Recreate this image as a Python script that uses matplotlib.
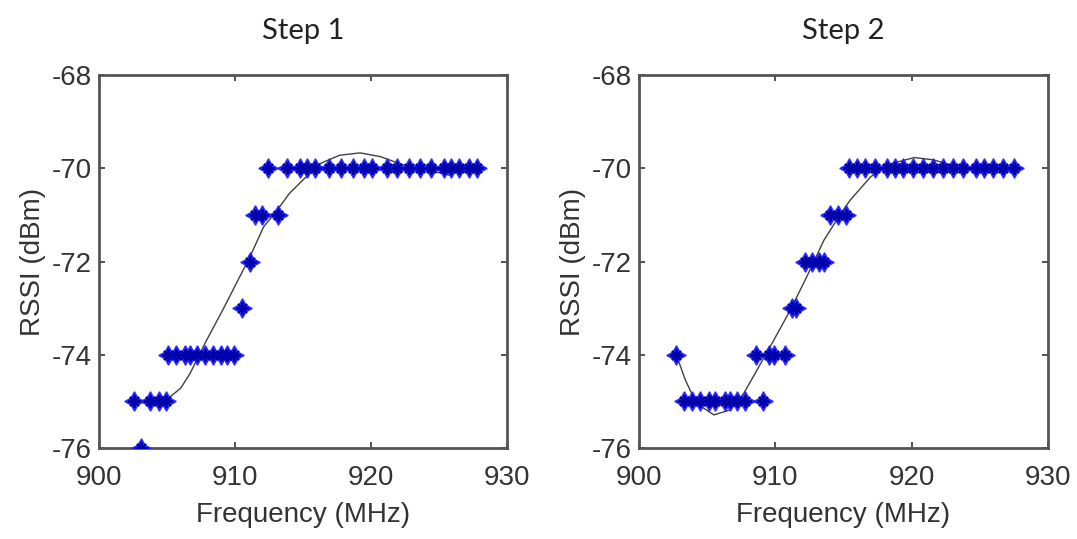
import matplotlib
matplotlib.use("Agg")
import matplotlib.pyplot as plt

# Step 1 measurements (MHz, dBm)
step1_freq = [903.1,
              902.6, 903.75, 904.4, 904.9,
              905.1, 905.7, 906.3, 906.7, 907.2, 907.8, 908.4, 909.0, 909.4, 909.9,
              910.5, 911.1,
              911.5, 912.0, 913.2,
              912.4, 913.8, 914.8, 915.3, 915.9, 916.9, 917.8, 918.7, 919.5, 920.1,
              921.2, 921.9, 922.8, 923.6, 924.4, 925.4, 925.9, 926.5, 927.2, 927.8]
step1_rssi = [-76,
              -75, -75, -75, -75,
              -74, -74, -74, -74, -74, -74, -74, -74, -74, -74,
              -73, -72,
              -71, -71, -71,
              -70, -70, -70, -70, -70, -70, -70, -70, -70, -70,
              -70, -70, -70, -70, -70, -70, -70, -70, -70, -70]
step1_fit_freq = [905.1, 906.0, 906.7, 907.8, 909.1, 910.1, 911.1, 912.1, 913.1, 914.0,
                  915.0, 916.25, 917.7, 919.2, 920.7, 922.1, 923.6, 925.1, 925.8]
step1_fit_rssi = [-74.93, -74.72, -74.40, -73.75, -73.04, -72.47, -71.90, -71.26, -70.9, -70.54,
                  -70.25, -69.9, -69.72, -69.67, -69.75, -69.9, -70.02, -70.1, -70.15]

# Step 2 measurements (MHz, dBm)
step2_freq = [902.7,
              903.3, 903.9, 904.5, 905.1, 905.6, 906.3, 906.7, 907.2, 907.8, 909.1,
              908.6, 909.5, 909.9, 910.7,
              911.2, 911.5,
              912.2, 912.7, 913.2, 913.55,
              914.0, 914.6, 915.2,
              915.4, 916.0, 916.6, 917.3, 918.2, 918.8, 919.4, 920.1, 920.8, 921.6,
              922.3, 923.0, 923.8, 924.7, 925.3, 926.0, 926.7, 927.5]
step2_rssi = [-74,
              -75, -75, -75, -75, -75, -75, -75, -75, -75, -75,
              -74, -74, -74, -74,
              -73, -73,
              -72, -72, -72, -72,
              -71, -71, -71,
              -70, -70, -70, -70, -70, -70, -70, -70, -70, -70,
              -70, -70, -70, -70, -70, -70, -70, -70]
step2_fit_freq = [902.7, 903.4, 904.2, 905.5, 906.7, 907.7, 908.65, 909.9, 911.1, 912.3,
                  913.55, 914.8, 915.5, 917.0, 918.5, 920.2, 921.6, 922.9, 924.5]
step2_fit_rssi = [-73.97, -74.54, -75.04, -75.29, -75.18, -74.82, -74.33, -73.68, -73.04, -72.33,
                  -71.55, -70.97, -70.68, -70.18, -69.9, -69.77, -69.82, -69.93, -70.0]

PANELS = [
    ("Step 1", step1_freq, step1_rssi, step1_fit_freq, step1_fit_rssi, [0.0919, 0.1688, 0.3788, 0.692]),
    ("Step 2", step2_freq, step2_rssi, step2_fit_freq, step2_fit_rssi, [0.5933, 0.1688, 0.3798, 0.692]),
]

plt.rcParams["font.family"] = ["Liberation Sans", "DejaVu Sans"]
plt.rcParams["axes.unicode_minus"] = False

fig = plt.figure(figsize=(10.77, 5.39), dpi=100)

for title, freq, rssi, fit_f, fit_r, rect in PANELS:
    ax = fig.add_axes(rect)
    ax.plot(fit_f, fit_r, color="#404040", linewidth=1.0, zorder=2)
    ax.plot(freq, rssi, linestyle="none", marker=(4, 1, 0), markersize=14,
            color="#1010ff", markeredgecolor="#2020ff", markeredgewidth=1.0, alpha=0.9, zorder=3)
    ax.plot(freq, rssi, linestyle="none", marker=(8, 2, 0), markersize=9,
            color="#0000aa", markeredgewidth=1.4, zorder=4)

    ax.set_xlim(900, 930)
    ax.set_ylim(-76, -68)
    ax.set_xticks([900, 910, 920, 930])
    ax.set_yticks([-76, -74, -72, -70, -68])
    ax.tick_params(direction="in", length=4, width=1.2, top=True, right=True,
                   labelsize=20, colors="#333333")
    ax.tick_params(axis="x", pad=12)
    ax.tick_params(axis="y", pad=5)
    for spine in ax.spines.values():
        spine.set_linewidth(2)
        spine.set_color("#555555")

    ax.set_xlabel("Frequency (MHz)", fontsize=20, color="#333333", labelpad=8)
    ax.set_ylabel("RSSI (dBm)", fontsize=20, color="#333333", labelpad=4)
    ax.set_title(title, fontsize=21, family=["Lato", "DejaVu Sans"], color="#222222", pad=26)

fig.savefig("out.png", dpi=100)
